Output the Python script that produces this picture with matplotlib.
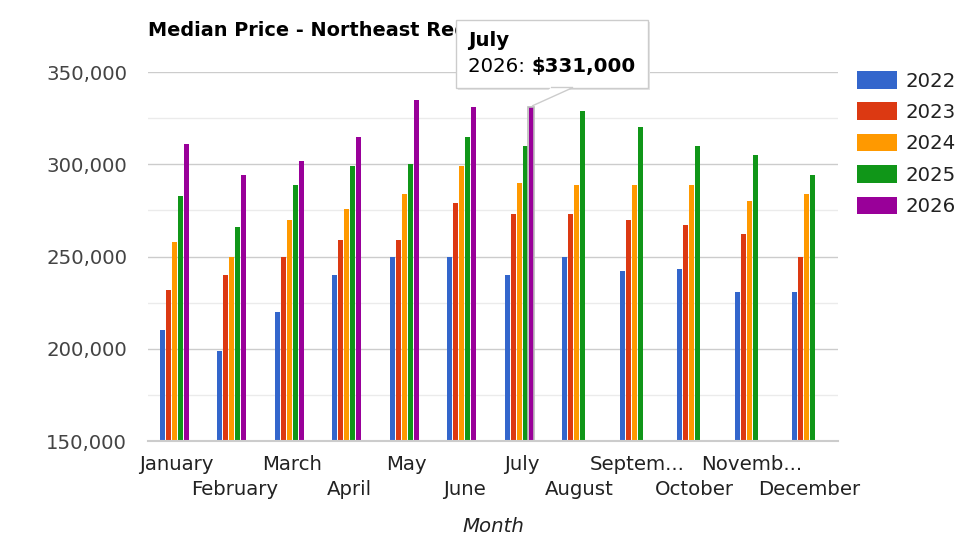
import numpy as np
import matplotlib
matplotlib.use("Agg")
from matplotlib import pyplot as plt
from matplotlib.patches import FancyBboxPatch, Polygon, Rectangle
from matplotlib.ticker import FuncFormatter, MultipleLocator

months = ["January", "February", "March", "April", "May", "June", "July",
          "August", "Septem...", "October", "Novemb...", "December"]
years = ["2022", "2023", "2024", "2025", "2026"]

p2022 = [210000, 199000, 220000, 240000, 250000, 250000, 240000, 250000, 242000, 243000, 231000, 231000]
p2023 = [232000, 240000, 250000, 259000, 259000, 279000, 273000, 273000, 270000, 267000, 262000, 250000]
p2024 = [258000, 250000, 270000, 276000, 284000, 299000, 290000, 289000, 289000, 289000, 280000, 284000]
p2025 = [283000, 266000, 289000, 299000, 300000, 315000, 310000, 329000, 320000, 310000, 305000, 294000]
p2026 = [311000, 294000, 302000, 315000, 335000, 331000, 331000, np.nan, np.nan, np.nan, np.nan, np.nan]

series = [p2022, p2023, p2024, p2025, p2026]
colors = ["#3366cc", "#dc3912", "#ff9900", "#109618", "#990099"]

plt.rcParams["font.family"] = ["DejaVu Sans"]
fs = 14.2

fig = plt.figure(figsize=(9.77, 5.54), dpi=100)
H = 554
ax = fig.add_axes([148 / 977, 1 - 441 / H, 690 / 977, 369 / H])

x = np.arange(len(months))
pitch = 0.104
width = 0.082
for i, (vals, c, yr) in enumerate(zip(series, colors, years)):
    off = (i - 2) * pitch - 0.043
    ax.bar(x + off, vals, width=width, color=c, label=yr, zorder=3)

# hover highlight on July 2026
ax.bar(x[6] + 2 * pitch - 0.043, p2026[6], width=width + 0.03, color="none",
       edgecolor="#bbbbbb", linewidth=1.2, zorder=4)

ax.set_xlim(-0.5, len(months) - 0.5)
ax.set_ylim(150000, 350000)
ax.yaxis.set_major_locator(MultipleLocator(50000))
ax.yaxis.set_minor_locator(MultipleLocator(25000))
ax.yaxis.set_major_formatter(FuncFormatter(lambda v, p: f"{int(v):,}"))
ax.grid(axis="y", which="major", color="#cccccc", linewidth=1.0, zorder=0)
ax.grid(axis="y", which="minor", color="#ebebeb", linewidth=1.0, zorder=0)
ax.axhline(150000, color="#cccccc", linewidth=1.5, clip_on=False, zorder=5)
ax.set_axisbelow(True)
for s in ax.spines.values():
    s.set_visible(False)

ax.set_xticks(x[::2], months[::2])
ax.set_xticks(x[1::2], months[1::2], minor=True)
ax.tick_params(axis="x", which="both", length=0, labelsize=fs, labelcolor="#222222")
ax.tick_params(axis="x", which="major", pad=10)
ax.tick_params(axis="x", which="minor", pad=28)
ax.tick_params(axis="y", which="both", length=0, labelsize=fs, labelcolor="#444444", pad=15)

ax.set_xlabel("Month", fontsize=fs, fontstyle="italic", color="#222222")
ax.xaxis.set_label_coords(0.5, -0.233)
ax.xaxis.label.set_va("center")

title = fig.text(148 / 977, 1 - 30 / H, "Median Price - Northeast Region", fontsize=13.9,
                 fontweight="bold", color="#000000", va="center", ha="left")
# the tooltip hides the rest of the title
title.set_clip_path(Rectangle((0, 0), 456 / 977, 1, transform=fig.transFigure))

ax.legend(loc="upper left", bbox_to_anchor=(857 / 977, 1 - 71 / H),
          bbox_transform=fig.transFigure, frameon=False, fontsize=fs,
          handlelength=2.05, handleheight=1.0, handletextpad=0.4,
          labelspacing=0.6, borderpad=0, borderaxespad=0, labelcolor="#222222")

# tooltip
shadow = FancyBboxPatch((458 / 977, 1 - 90 / H), 192 / 977, 68 / H, boxstyle="square,pad=0",
                        transform=fig.transFigure, facecolor="#e6e6e6", edgecolor="none", zorder=9)
box = FancyBboxPatch((456 / 977, 1 - 88 / H), 192 / 977, 68 / H, boxstyle="square,pad=0",
                     transform=fig.transFigure, facecolor="white", edgecolor="#cccccc",
                     linewidth=1.0, zorder=10)
fig.add_artist(shadow)
fig.add_artist(box)
tri = Polygon([(551 / 977, 1 - 87.5 / H), (573 / 977, 1 - 87.5 / H), (532 / 977, 1 - 106 / H)],
              closed=False, transform=fig.transFigure, facecolor="white", edgecolor="#cccccc",
              linewidth=1.0, zorder=11)
fig.add_artist(tri)
fig.text(468 / 977, 1 - 41 / H, "July", fontsize=fs, fontweight="bold", color="#000000",
         va="center", ha="left", zorder=12)
t1 = fig.text(468 / 977, 1 - 67 / H, "2026: ", fontsize=fs, color="#000000",
              va="center", ha="left", zorder=12)
fig.canvas.draw()
bb = t1.get_window_extent()
fig.text(bb.x1 / fig.bbox.width, 1 - 67 / H, r"\$331,000", fontsize=fs,
         fontweight="bold", color="#000000", va="center", ha="left", zorder=12)

fig.savefig("out.png", dpi=100)
